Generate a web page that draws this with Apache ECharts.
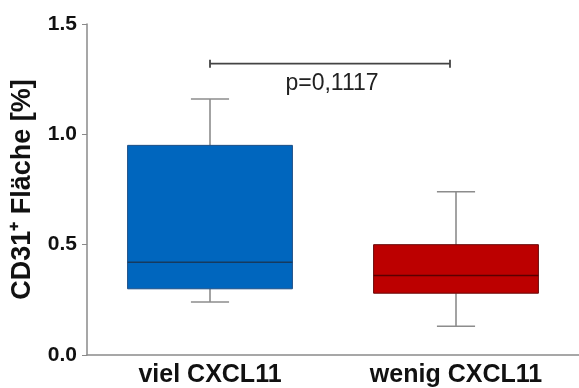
<!DOCTYPE html>
<html><head><meta charset="utf-8">
<script src="https://cdn.jsdelivr.net/npm/echarts@6/dist/echarts.min.js"></script>
<style>html,body{margin:0;padding:0;background:#fff}#c{width:579px;height:388px}</style>
</head><body><div id="c"></div>
<script>
const categories = ['viel CXCL11', 'wenig CXCL11'];
// [min, q1, median, q3, max]
const boxViel = [0.24, 0.30, 0.42, 0.95, 1.16];
const boxWenig = [0.13, 0.28, 0.36, 0.50, 0.74];
const yTicks = [0.0, 0.5, 1.0, 1.5];
const pText = 'p=0,1117';
const bracketY = 1.32;

const fills = ['#0066BE', '#BC0000'];
const edges = ['#1d4f86', '#6a0a0a'];
const medians = ['#163a5f', '#5a0000'];
const font = 'Liberation Sans, Arial, sans-serif';

const boxData = [[0].concat(boxViel), [1].concat(boxWenig)];

const chart = echarts.init(document.getElementById('c'));
chart.setOption({
  animation: false,
  grid: {left: 87, top: 24, width: 496, height: 332},
  xAxis: {
    type: 'category', data: categories, boundaryGap: true,
    axisLine: {lineStyle: {color: '#8a8a8a', width: 1.5}},
    axisTick: {alignWithLabel: true, length: 4, lineStyle: {color: '#8a8a8a'}},
    axisLabel: {color: '#111', fontSize: 25, fontWeight: 'bold', fontFamily: font, margin: 8}
  },
  yAxis: {
    type: 'value', min: 0, max: 1.5, interval: 0.5,
    name: 'CD31⁺ Fläche [%]', nameLocation: 'middle', nameGap: 51, nameRotate: 90,
    nameTextStyle: {color: '#111', fontSize: 27, fontWeight: 'bold', fontFamily: font},
    splitLine: {show: false},
    axisLine: {show: true, lineStyle: {color: '#8a8a8a', width: 1.5}},
    axisTick: {show: true, length: 5, lineStyle: {color: '#8a8a8a'}},
    axisLabel: {color: '#111', fontSize: 21, fontWeight: 'bold', fontFamily: font, margin: 10,
      formatter: v => yTicks.indexOf(v) >= 0 ? v.toFixed(1) : ''}
  },
  series: [{
    type: 'custom',
    data: boxData,
    renderItem: function (params, api) {
      const i = api.value(0);
      const band = api.size([1, 0])[0];
      const bw = band * 0.67, cw = band * 0.155;
      const x = api.coord([i, 0])[0];
      const yMin = api.coord([i, api.value(1)])[1];
      const yQ1 = api.coord([i, api.value(2)])[1];
      const yMed = api.coord([i, api.value(3)])[1];
      const yQ3 = api.coord([i, api.value(4)])[1];
      const yMax = api.coord([i, api.value(5)])[1];
      const ws = {stroke: '#8c8c8c', lineWidth: 1.6};
      return {type: 'group', children: [
        {type: 'line', shape: {x1: x, y1: yQ3, x2: x, y2: yMax}, style: ws},
        {type: 'line', shape: {x1: x - cw / 2, y1: yMax, x2: x + cw / 2, y2: yMax}, style: ws},
        {type: 'line', shape: {x1: x, y1: yQ1, x2: x, y2: yMin}, style: ws},
        {type: 'line', shape: {x1: x - cw / 2, y1: yMin, x2: x + cw / 2, y2: yMin}, style: ws},
        {type: 'rect', shape: {x: x - bw / 2, y: yQ3, width: bw, height: yQ1 - yQ3},
          style: {fill: fills[i], stroke: edges[i], lineWidth: 1}},
        {type: 'line', shape: {x1: x - bw / 2, y1: yMed, x2: x + bw / 2, y2: yMed},
          style: {stroke: medians[i], lineWidth: 1.4}}
      ]};
    }
  }, {
    type: 'custom',
    data: [[0, 1, bracketY]],
    renderItem: function (params, api) {
      const p1 = api.coord([api.value(0), api.value(2)]);
      const p2 = api.coord([api.value(1), api.value(2)]);
      const x1 = p1[0], x2 = p2[0] - 6, y = p1[1];
      const st = {stroke: '#444', lineWidth: 1.8};
      return {type: 'group', children: [
        {type: 'line', shape: {x1: x1, y1: y, x2: x2, y2: y}, style: st},
        {type: 'line', shape: {x1: x1, y1: y - 4, x2: x1, y2: y + 4}, style: st},
        {type: 'line', shape: {x1: x2, y1: y - 4, x2: x2, y2: y + 4}, style: st},
        {type: 'text', style: {text: pText, x: (x1 + x2) / 2 + 2, y: y + 20, align: 'center', verticalAlign: 'middle',
          fill: '#222', fontSize: 23, fontFamily: font}}
      ]};
    }
  }]
});
</script></body></html>
